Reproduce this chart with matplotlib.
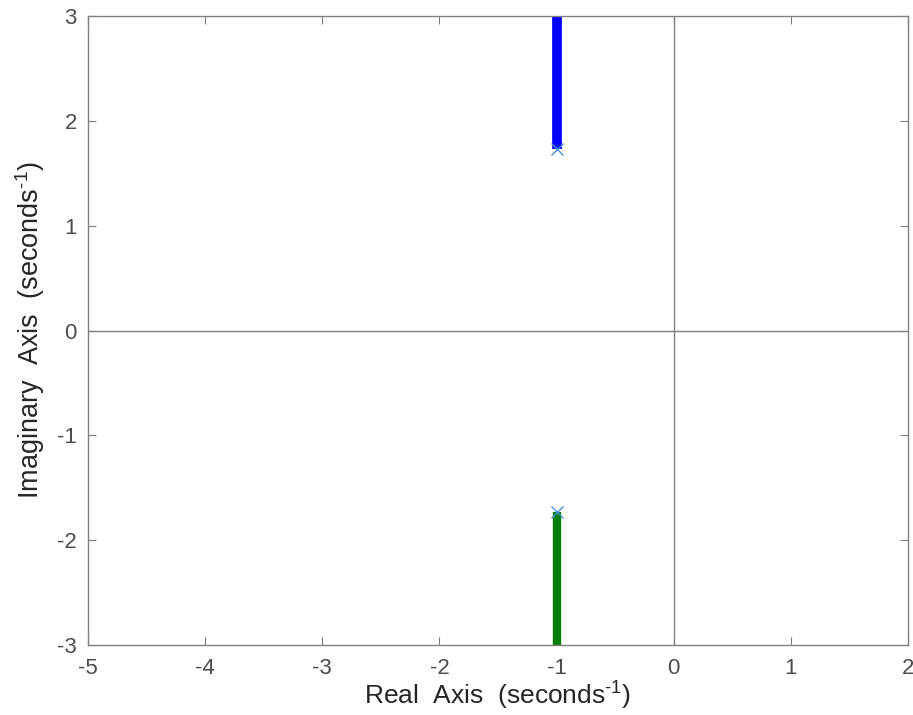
import matplotlib.pyplot as plt
import numpy as np

plt.rcParams['font.family'] = ['Liberation Sans', 'DejaVu Sans']
plt.rcParams['axes.unicode_minus'] = False
plt.rcParams['mathtext.fontset'] = 'custom'
plt.rcParams['mathtext.rm'] = 'Liberation Sans'

# 根軌跡の枝 (実部, 虚部)
branch1_re = [-1.0, -1.0]
branch1_im = [1.732, 3.0]
branch2_re = [-1.0, -1.0]
branch2_im = [-1.732, -3.0]

# 極
pole_re = [-1.0, -1.0]
pole_im = [1.732, -1.732]

xticks = [-5, -4, -3, -2, -1, 0, 1, 2]
yticks = [-3, -2, -1, 0, 1, 2, 3]

fig = plt.figure(figsize=(9.13, 7.15), dpi=100)
ax = fig.add_axes([0.0964, 0.0979, 0.8981, 0.8797])

ax.axhline(0, color='#808080', lw=1, zorder=1)
ax.axvline(0, color='#808080', lw=1, zorder=1)

ax.plot(branch1_re, branch1_im, color='#0000ff', lw=7, solid_capstyle='butt', zorder=2)
ax.plot(branch2_re, branch2_im, color='#008000', lw=6, solid_capstyle='butt', zorder=2)
ax.plot(pole_re, pole_im, 'x', color='#4a90d9', ms=8, mew=1, zorder=3)

ax.set_xlim(-5, 2)
ax.set_ylim(-3, 3)
ax.set_xticks(xticks)
ax.set_yticks(yticks)

gray = '#4d4d4d'
for s in ax.spines.values():
    s.set_color('#808080')
    s.set_linewidth(1)
ax.tick_params(direction='in', top=True, right=True, length=6,
               color='#808080', labelcolor=gray, labelsize=16)
ax.tick_params(axis='x', pad=9)
ax.tick_params(axis='y', pad=8)

sup = r'$^{\mathrm{\text{-1}}}$'
ax.set_xlabel('Real  Axis  (seconds' + sup + ')', fontsize=19, color='#262626', labelpad=0)
ax.set_ylabel('Imaginary  Axis  (seconds' + sup + ')', fontsize=19.5, color='#262626', labelpad=7)

plt.savefig('out.png', dpi=100)
